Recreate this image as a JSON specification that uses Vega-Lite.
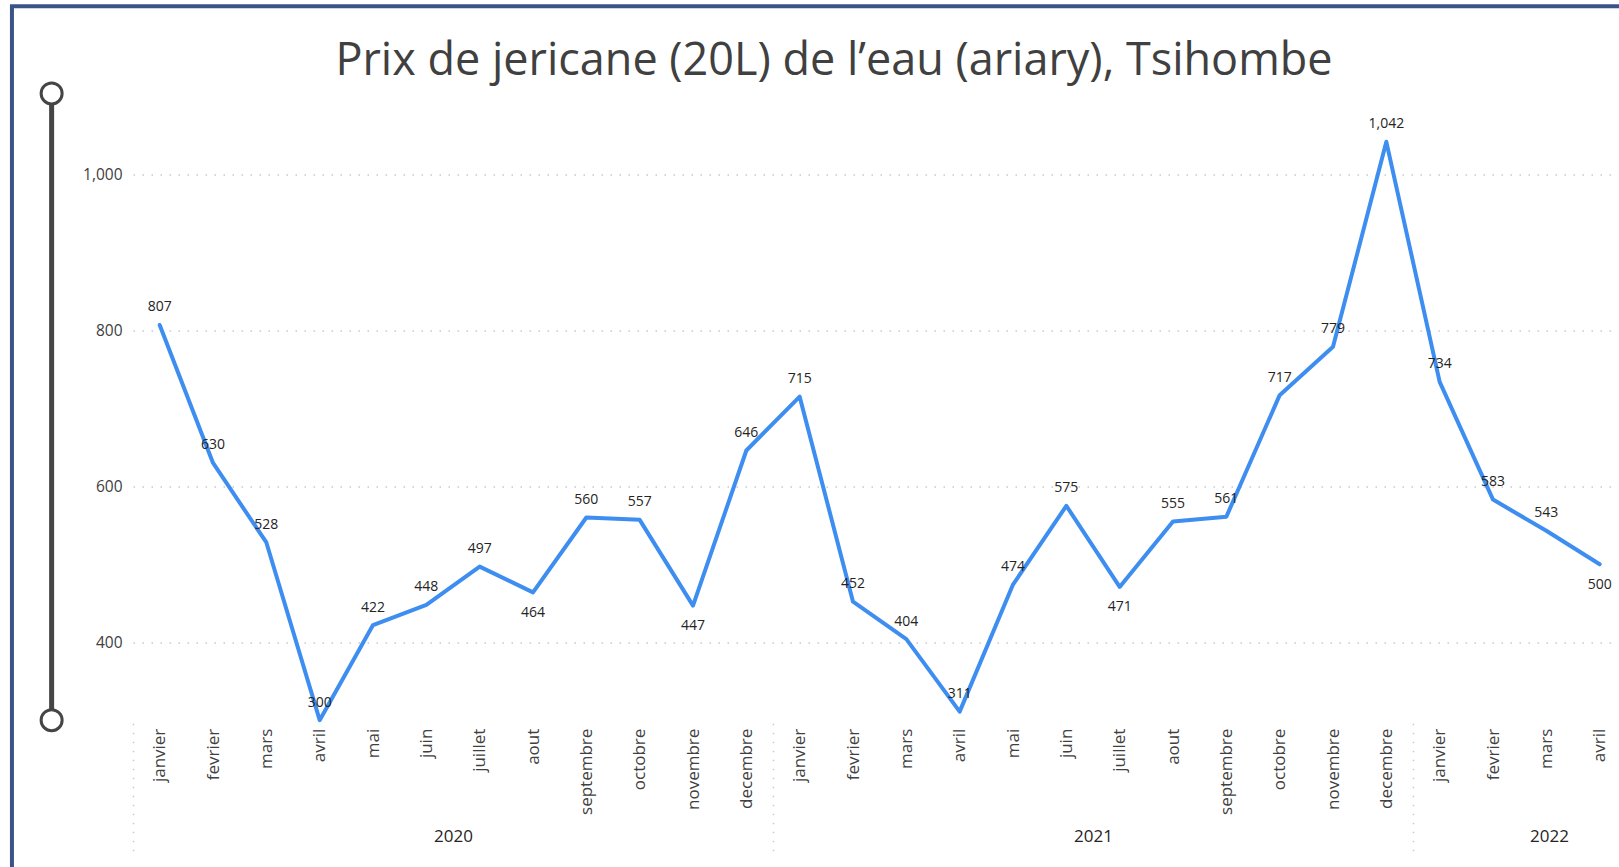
{
  "$schema": "https://vega.github.io/schema/vega-lite/v6.json",
  "width": 1480,
  "height": 623.6,
  "autosize": {"type": "none"},
  "padding": {"left": 133, "top": 96.6, "right": 6, "bottom": 147},
  "background": "white",
  "config": {
    "font": "Open Sans",
    "view": {"stroke": null},
    "axis": {"labelFont": "Open Sans", "titleFont": "Open Sans"}
  },
  "title": {
    "text": "Prix de jericane (20L) de l’eau (ariary), Tsihombe",
    "font": "Open Sans",
    "fontSize": 45,
    "fontWeight": "normal",
    "color": "#404040",
    "anchor": "middle",
    "frame": "group",
    "baseline": "alphabetic",
    "dx": -39,
    "offset": -116
  },
  "datasets": {
    "prix": [
      {"periode": "2020-01", "mois": "janvier", "annee": "2020", "prix": 807},
      {"periode": "2020-02", "mois": "fevrier", "annee": "2020", "prix": 630},
      {"periode": "2020-03", "mois": "mars", "annee": "2020", "prix": 528},
      {"periode": "2020-04", "mois": "avril", "annee": "2020", "prix": 300},
      {"periode": "2020-05", "mois": "mai", "annee": "2020", "prix": 422},
      {"periode": "2020-06", "mois": "juin", "annee": "2020", "prix": 448},
      {"periode": "2020-07", "mois": "juillet", "annee": "2020", "prix": 497},
      {"periode": "2020-08", "mois": "aout", "annee": "2020", "prix": 464},
      {"periode": "2020-09", "mois": "septembre", "annee": "2020", "prix": 560},
      {"periode": "2020-10", "mois": "octobre", "annee": "2020", "prix": 557},
      {"periode": "2020-11", "mois": "novembre", "annee": "2020", "prix": 447},
      {"periode": "2020-12", "mois": "decembre", "annee": "2020", "prix": 646},
      {"periode": "2021-01", "mois": "janvier", "annee": "2021", "prix": 715},
      {"periode": "2021-02", "mois": "fevrier", "annee": "2021", "prix": 452},
      {"periode": "2021-03", "mois": "mars", "annee": "2021", "prix": 404},
      {"periode": "2021-04", "mois": "avril", "annee": "2021", "prix": 311},
      {"periode": "2021-05", "mois": "mai", "annee": "2021", "prix": 474},
      {"periode": "2021-06", "mois": "juin", "annee": "2021", "prix": 575},
      {"periode": "2021-07", "mois": "juillet", "annee": "2021", "prix": 471},
      {"periode": "2021-08", "mois": "aout", "annee": "2021", "prix": 555},
      {"periode": "2021-09", "mois": "septembre", "annee": "2021", "prix": 561},
      {"periode": "2021-10", "mois": "octobre", "annee": "2021", "prix": 717},
      {"periode": "2021-11", "mois": "novembre", "annee": "2021", "prix": 779},
      {"periode": "2021-12", "mois": "decembre", "annee": "2021", "prix": 1042},
      {"periode": "2022-01", "mois": "janvier", "annee": "2022", "prix": 734},
      {"periode": "2022-02", "mois": "fevrier", "annee": "2022", "prix": 583},
      {"periode": "2022-03", "mois": "mars", "annee": "2022", "prix": 543},
      {"periode": "2022-04", "mois": "avril", "annee": "2022", "prix": 500}
    ],
    "annees": [
      {"annee": "2020", "debut": 0, "fin": 12},
      {"annee": "2021", "debut": 12, "fin": 24},
      {"annee": "2022", "debut": 24, "fin": 28}
    ]
  },
  "layer": [
    {
      "data": {"name": "prix"},
      "encoding": {
        "x": {
          "field": "periode",
          "type": "ordinal",
          "scale": {"type": "point", "padding": 0.375, "align": 0.667},
          "axis": {
            "orient": "bottom",
            "title": null,
            "labelAngle": -90,
            "labelExpr": "['janvier','fevrier','mars','avril','mai','juin','juillet','aout','septembre','octobre','novembre','decembre'][toNumber(substring(datum.value,5,7))-1]",
            "labelFontSize": 17,
            "labelColor": "#404040",
            "labelPadding": 8,
            "ticks": false,
            "domain": false,
            "grid": false
          }
        },
        "y": {
          "field": "prix",
          "type": "quantitative",
          "scale": {"domain": [300, 1100], "nice": false, "zero": false},
          "axis": {
            "title": null,
            "values": [400, 600, 800, 1000],
            "labelExpr": "format(datum.value, ',')",
            "labelFontSize": 15.5,
            "labelColor": "#404040",
            "labelPadding": 11,
            "ticks": false,
            "domain": false,
            "grid": true,
            "gridColor": "#c8c8c8",
            "gridDash": [1.5, 7.5],
            "gridWidth": 1.5
          }
        }
      },
      "layer": [
        {
          "mark": {"type": "line", "color": "#3d8ef0", "strokeWidth": 4, "strokeJoin": "round", "strokeCap": "round"}
        },
        {
          "transform": [{"filter": "indexof(['2020-08','2020-11','2021-07','2022-04'], datum.periode) < 0"}],
          "mark": {"type": "text", "baseline": "middle", "align": "center", "dy": -17.5, "fontSize": 14, "color": "#252423"},
          "encoding": {"text": {"field": "prix", "type": "quantitative", "format": ","}}
        },
        {
          "transform": [{"filter": "indexof(['2020-08','2020-11','2021-07','2022-04'], datum.periode) >= 0"}],
          "mark": {"type": "text", "baseline": "middle", "align": "center", "dy": 20.5, "fontSize": 14, "color": "#252423"},
          "encoding": {"text": {"field": "prix", "type": "quantitative", "format": ","}}
        }
      ]
    },
    {
      "data": {"name": "annees"},
      "mark": {"type": "rule", "opacity": 0},
      "encoding": {
        "x": {
          "field": "debut",
          "type": "quantitative",
          "scale": {"domain": [0, 27.75], "nice": false, "zero": false},
          "axis": {
            "orient": "bottom",
            "title": null,
            "values": [0, 12, 24],
            "labels": false,
            "domain": false,
            "grid": false,
            "ticks": true,
            "tickSize": 132,
            "tickColor": "#c8c8c8",
            "tickDash": [1.5, 7.5],
            "tickWidth": 1.5,
            "offset": 3
          }
        }
      }
    },
    {
      "data": {"name": "annees"},
      "mark": {"type": "rule", "opacity": 0},
      "encoding": {
        "x": {
          "field": "fin",
          "type": "quantitative",
          "scale": {"domain": [0, 27.75], "nice": false, "zero": false},
          "axis": {
            "orient": "bottom",
            "title": null,
            "values": [6, 18, 26.55],
            "labelExpr": "datum.value < 12 ? '2020' : (datum.value < 24 ? '2021' : '2022')",
            "labelFontSize": 17,
            "labelColor": "#252423",
            "labelAngle": 0,
            "labelBaseline": "middle",
            "labelPadding": 116,
            "domain": false,
            "grid": false,
            "ticks": false
          }
        }
      }
    },
    {
      "data": {"values": [{"bas": 300, "haut": 1104, "pos": -1.526}]},
      "layer": [
        {
          "mark": {"type": "rule", "color": "#454545", "strokeWidth": 5},
          "encoding": {
            "x": {"field": "pos", "type": "quantitative", "scale": {"domain": [0, 27.75], "nice": false, "zero": false}, "axis": null},
            "y": {"field": "bas", "type": "quantitative", "scale": {"domain": [300, 1100], "nice": false, "zero": false}, "axis": null},
            "y2": {"field": "haut"}
          }
        },
        {
          "mark": {"type": "point", "shape": "circle", "filled": true, "fill": "white", "stroke": "#454545", "strokeWidth": 3, "size": 441, "opacity": 1},
          "encoding": {
            "x": {"field": "pos", "type": "quantitative", "scale": {"domain": [0, 27.75], "nice": false, "zero": false}, "axis": null},
            "y": {"field": "bas", "type": "quantitative", "scale": {"domain": [300, 1100], "nice": false, "zero": false}, "axis": null}
          }
        },
        {
          "mark": {"type": "point", "shape": "circle", "filled": true, "fill": "white", "stroke": "#454545", "strokeWidth": 3, "size": 441, "opacity": 1},
          "encoding": {
            "x": {"field": "pos", "type": "quantitative", "scale": {"domain": [0, 27.75], "nice": false, "zero": false}, "axis": null},
            "y": {"field": "haut", "type": "quantitative", "scale": {"domain": [300, 1100], "nice": false, "zero": false}, "axis": null}
          }
        }
      ]
    },
    {
      "data": {"values": [{"gauche": -2.27, "droite": 40, "haut": 1216, "bas": 0}]},
      "mark": {"type": "rect", "fill": null, "filled": false, "stroke": "#3b5487", "strokeWidth": 4},
      "encoding": {
        "x": {"field": "gauche", "type": "quantitative", "scale": {"domain": [0, 27.75], "nice": false, "zero": false}, "axis": null},
        "x2": {"field": "droite"},
        "y": {"field": "haut", "type": "quantitative", "scale": {"domain": [300, 1100], "nice": false, "zero": false}, "axis": null},
        "y2": {"field": "bas"}
      }
    }
  ],
  "resolve": {"scale": {"x": "independent", "y": "independent"}, "axis": {"x": "independent", "y": "independent"}}
}
